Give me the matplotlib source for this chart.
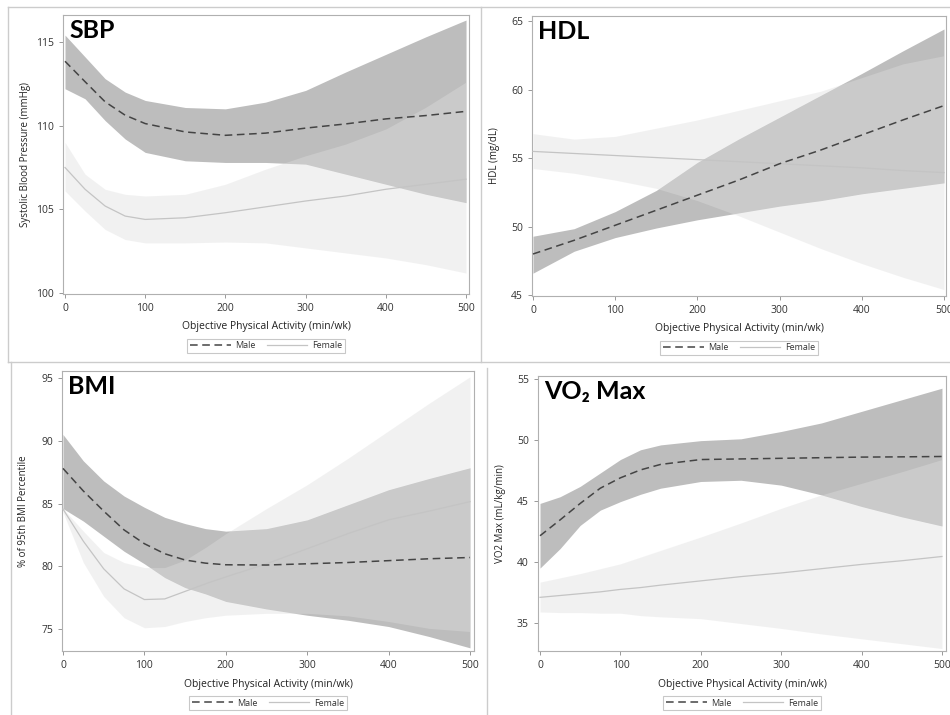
import matplotlib.pyplot as plt
from matplotlib.lines import Line2D

W, H = 950, 715
plt.rcParams['font.family'] = ['Open Sans', 'DejaVu Sans']

# ---- SBP ----
sbp_x = [0, 25, 50, 75, 100, 150, 200, 250, 300, 350, 400, 450, 500]
sbp_male = [113.84, 112.62, 111.42, 110.62, 110.12, 109.62, 109.42, 109.55, 109.85, 110.1, 110.4, 110.6, 110.85]
sbp_male_hi = [115.4, 114.1, 112.8, 112.0, 111.5, 111.08, 111.0, 111.4, 112.1, 113.2, 114.25, 115.3, 116.3]
sbp_male_lo = [112.2, 111.6, 110.3, 109.2, 108.4, 107.9, 107.8, 107.8, 107.7, 107.1, 106.5, 105.9, 105.4]
sbp_fem = [107.5, 106.2, 105.2, 104.6, 104.4, 104.5, 104.8, 105.15, 105.5, 105.8, 106.2, 106.5, 106.8]
sbp_fem_hi = [109.0, 107.1, 106.2, 105.9, 105.8, 105.9, 106.5, 107.4, 108.2, 108.9, 109.8, 111.1, 112.6]
sbp_fem_lo = [106.1, 104.9, 103.8, 103.2, 103.0, 103.0, 103.05, 103.0, 102.7, 102.4, 102.1, 101.7, 101.2]

# ---- HDL ----
hdl_x = [0, 50, 100, 150, 200, 250, 300, 350, 400, 450, 500]
hdl_male = [48.0, 49.0, 50.1, 51.2, 52.3, 53.4, 54.6, 55.6, 56.7, 57.8, 58.85]
hdl_male_hi = [49.3, 49.85, 51.1, 52.65, 54.7, 56.4, 58.0, 59.6, 61.2, 62.85, 64.45]
hdl_male_lo = [46.6, 48.2, 49.2, 49.9, 50.5, 51.0, 51.5, 51.9, 52.4, 52.8, 53.2]
hdl_fem = [55.5, 55.35, 55.2, 55.05, 54.9, 54.75, 54.6, 54.45, 54.3, 54.1, 53.95]
hdl_fem_hi = [56.8, 56.4, 56.6, 57.2, 57.8, 58.5, 59.2, 59.9, 60.9, 61.9, 62.5]
hdl_fem_lo = [54.25, 53.9, 53.4, 52.8, 51.9, 50.8, 49.6, 48.4, 47.3, 46.3, 45.4]

# ---- BMI ----
bmi_x = [0, 25, 50, 75, 100, 125, 150, 175, 200, 250, 300, 350, 400, 450, 500]
bmi_male = [87.8, 86.0, 84.4, 82.9, 81.8, 81.0, 80.5, 80.25, 80.12, 80.1, 80.2, 80.3, 80.45, 80.6, 80.7]
bmi_male_hi = [90.5, 88.4, 86.8, 85.6, 84.7, 83.9, 83.4, 83.0, 82.8, 83.0, 83.7, 84.9, 86.1, 87.0, 87.85]
bmi_male_lo = [84.6, 83.6, 82.4, 81.2, 80.2, 79.1, 78.3, 77.8, 77.2, 76.6, 76.1, 75.7, 75.2, 74.4, 73.5]
bmi_fem = [84.56, 82.0, 79.8, 78.2, 77.35, 77.4, 78.0, 78.6, 79.15, 80.2, 81.4, 82.6, 83.7, 84.4, 85.15]
bmi_fem_hi = [84.6, 82.8, 81.1, 80.3, 79.9, 79.9, 80.5, 81.5, 82.6, 84.6, 86.5, 88.6, 90.8, 93.0, 95.1]
bmi_fem_lo = [84.3, 80.3, 77.6, 75.9, 75.1, 75.2, 75.6, 75.9, 76.1, 76.25, 76.25, 76.05, 75.6, 75.05, 74.8]

# ---- VO2 Max ----
vo2_x = [0, 25, 50, 75, 100, 125, 150, 200, 250, 300, 350, 400, 450, 500]
vo2_male = [42.15, 43.45, 44.8, 46.05, 46.9, 47.55, 48.0, 48.4, 48.45, 48.5, 48.55, 48.6, 48.62, 48.65]
vo2_male_hi = [44.8, 45.35, 46.2, 47.3, 48.4, 49.2, 49.6, 49.95, 50.1, 50.7, 51.4, 52.35, 53.3, 54.25]
vo2_male_lo = [39.5, 41.1, 43.0, 44.25, 44.95, 45.55, 46.05, 46.6, 46.7, 46.3, 45.5, 44.55, 43.7, 42.95]
vo2_fem = [37.1, 37.25, 37.4, 37.55, 37.75, 37.9, 38.1, 38.45, 38.8, 39.1, 39.45, 39.8, 40.1, 40.45]
vo2_fem_hi = [38.35, 38.7, 39.05, 39.45, 39.85, 40.4, 40.95, 42.05, 43.2, 44.4, 45.5, 46.45, 47.4, 48.4]
vo2_fem_lo = [35.9, 35.85, 35.85, 35.8, 35.8, 35.6, 35.5, 35.35, 34.95, 34.55, 34.1, 33.7, 33.3, 32.9]

x_ticks = [0, 100, 200, 300, 400, 500]
x_label = 'Objective Physical Activity (min/wk)'

panels = [
    # title, ylabel, data, box px (l, t, r, b), xlim, ylim, yticks
    ('SBP', 'Systolic Blood Pressure (mmHg)',
     (sbp_x, sbp_male, sbp_male_hi, sbp_male_lo, sbp_fem, sbp_fem_hi, sbp_fem_lo),
     (63, 15, 469, 294), (-2.5, 503.7), (99.95, 116.6), [100, 105, 110, 115]),
    ('HDL', 'HDL (mg/dL)',
     (hdl_x, hdl_male, hdl_male_hi, hdl_male_lo, hdl_fem, hdl_fem_hi, hdl_fem_lo),
     (532, 16, 946, 296), (-1.2, 502.4), (44.93, 65.4), [45, 50, 55, 60, 65]),
    ('BMI', '% of 95th BMI Percentile',
     (bmi_x, bmi_male, bmi_male_hi, bmi_male_lo, bmi_fem, bmi_fem_hi, bmi_fem_lo),
     (62, 371, 474, 651), (-1.2, 504.9), (73.25, 95.56), [75, 80, 85, 90, 95]),
    ('VO\u2082 Max', 'VO2 Max (mL/kg/min)',
     (vo2_x, vo2_male, vo2_male_hi, vo2_male_lo, vo2_fem, vo2_fem_hi, vo2_fem_lo),
     (538, 376, 946, 651), (-2.5, 505), (32.7, 55.25), [35, 40, 45, 50, 55]),
]

fig = plt.figure(figsize=(W / 100, H / 100), dpi=100)

# light panel borders of the composite
def fig_line(x0, y0, x1, y1):
    fig.add_artist(Line2D([x0 / W, x1 / W], [1 - y0 / H, 1 - y1 / H],
                          transform=fig.transFigure, color='#cccccc', lw=1))

fig_line(8, 7, 950, 7)
fig_line(8, 7, 8, 362)
fig_line(481, 7, 481, 362)
fig_line(8, 362, 950, 362)
fig_line(11, 362, 11, 715)
fig_line(487, 368, 487, 715)

for title, ylab, d, (l, t, r, b), xlim, ylim, yticks in panels:
    px, m, mhi, mlo, f, fhi, flo = d
    ax = fig.add_axes([l / W, 1 - b / H, (r - l) / W, (b - t) / H])
    h = b - t
    ax.fill_between(px, mlo, mhi, color='#bdbdbd', lw=0, zorder=1)
    ax.fill_between(px, flo, fhi, color='#dedede', alpha=0.4, lw=0, zorder=2)
    ax.plot(px, m, color='#444444', lw=1.1, dashes=(5, 3), zorder=4, label='Male')
    ax.plot(px, f, color='#c4c4c4', lw=0.9, zorder=3, label='Female')
    ax.set_xlim(*xlim)
    ax.set_ylim(*ylim)
    ax.set_xticks(x_ticks)
    ax.set_yticks(yticks)
    for s in ax.spines.values():
        s.set_color('#b0b0b0')
        s.set_linewidth(0.8)
    ax.tick_params(labelsize=7.5, labelcolor='#333333', color='#888888', length=3, width=0.6)
    ax.set_xlabel(x_label, fontsize=7.5, color='#222222', va='center')
    ax.xaxis.set_label_coords(0.5, -33 / h)
    ax.set_ylabel(ylab, fontsize=7, color='#222222', va='center')
    ax.yaxis.set_label_coords(-38 / (r - l), 0.5)
    ax.text(0.015, 0.985, title, transform=ax.transAxes, ha='left', va='top',
            fontsize=18, fontweight='bold', family=['Lato', 'DejaVu Sans'], color='black')
    leg = ax.legend(loc='center', bbox_to_anchor=(0.5, -52 / h), ncol=2, fontsize=6.5,
                    fancybox=False, edgecolor='#bbbbbb', handlelength=4.5,
                    columnspacing=1.2, borderpad=0.3, handletextpad=0.5)
    leg.get_frame().set_linewidth(0.8)
    for txt in leg.get_texts():
        txt.set_color('#333333')

fig.savefig('out.png', dpi=100)
